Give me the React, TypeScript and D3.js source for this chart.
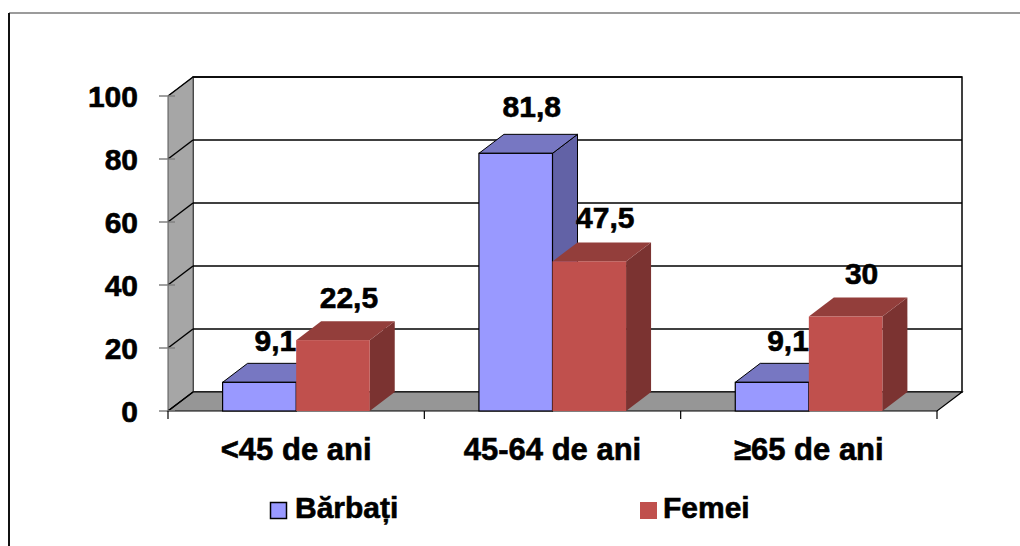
import React from "react";
import * as d3 from "d3";

const categories = ["<45 de ani", "45-64 de ani", "≥65 de ani"];
const seriesNames = ["Bărbați", "Femei"];
const barbati = [9.1, 81.8, 9.1];
const femei = [22.5, 47.5, 30];
const yTicks = [0, 20, 40, 60, 80, 100];
const labelText = (v: number) => String(v).replace(".", ",");

const W = 1020;
const H = 546;
const DX = 25;
const DY = -19;
const FONT = "'Liberation Sans', Arial, sans-serif";

const styles = [
  { front: "#9999FF", top: "#7777C2", side: "#6262A6", stroke: "#000" },
  { front: "#C0504D", top: "#933E3B", side: "#7B3331", stroke: "none" },
];

const textProps = {
  fontFamily: FONT,
  fontWeight: "bold" as const,
  fill: "#000",
  stroke: "#000",
  strokeWidth: 0.6,
};

export default function App() {
  const x = d3.scaleBand<string>().domain(categories).range([168, 937]).padding(0);
  const bw = x.bandwidth();
  const inner = d3
    .scaleBand<string>()
    .domain(seriesNames)
    .range([bw * 0.213, bw * 0.787])
    .padding(0);
  const y = d3.scaleLinear().domain([0, 100]).range([411, 96]);
  const values = [barbati, femei];
  const x0 = 168, x1 = 937;
  const y0 = y(0), yTop = y(100);

  const pts = (arr: [number, number][]) => arr.map((p) => p.join(",")).join(" ");

  const bars: React.ReactNode[] = [];
  const labels: React.ReactNode[] = [];
  categories.forEach((c, ci) => {
    seriesNames.forEach((s, si) => {
      const v = values[si][ci];
      const bx = (x(c) as number) + (inner(s) as number);
      const bwid = inner.bandwidth();
      const yt = y(v);
      const st = styles[si];
      bars.push(
        <g key={`${ci}-${si}`}>
          <polygon
            points={pts([[bx + bwid, y0], [bx + bwid + DX, y0 + DY], [bx + bwid + DX, yt + DY], [bx + bwid, yt]])}
            fill={st.side}
            stroke={st.stroke}
            strokeWidth={1}
          />
          <polygon
            points={pts([[bx, yt], [bx + DX, yt + DY], [bx + bwid + DX, yt + DY], [bx + bwid, yt]])}
            fill={st.top}
            stroke={st.stroke}
            strokeWidth={1}
          />
          <rect x={bx} y={yt} width={bwid} height={y0 - yt} fill={st.front} stroke={st.stroke} strokeWidth={1.2} />
        </g>
      );
      labels.push(
        <text
          key={`l${ci}-${si}`}
          x={bx + bwid / 2 + 16}
          y={yt + DY - 12 - (v / 100) * 6}
          textAnchor="middle"
          fontSize={30}
          {...textProps}
        >
          {labelText(v)}
        </text>
      );
    });
  });

  return (
    <svg width={W} height={H} style={{ position: "absolute", left: 0, top: 0, background: "#fff" }}>
      {/* outer frame */}
      <line x1={9} y1={13} x2={W} y2={13} stroke="#7a7a7a" strokeWidth={1.5} />
      <line x1={9} y1={13} x2={9} y2={H} stroke="#111" strokeWidth={2} />

      {/* back wall */}
      <rect x={x0 + DX} y={yTop + DY} width={x1 - x0} height={y0 - yTop} fill="#fff" stroke="#000" strokeWidth={1.5} />
      {/* left wall */}
      <polygon
        points={pts([[x0, y0], [x0, yTop], [x0 + DX, yTop + DY], [x0 + DX, y0 + DY]])}
        fill="#A6A6A6"
        stroke="#555"
        strokeWidth={1}
      />
      {/* floor */}
      <polygon
        points={pts([[x0, y0], [x1, y0], [x1 + DX, y0 + DY], [x0 + DX, y0 + DY]])}
        fill="#969696"
        stroke="#000"
        strokeWidth={1.2}
      />
      {/* gridlines */}
      {yTicks.map((t) => (
        <g key={`g${t}`}>
          {t > 0 && (
            <line x1={x0 + DX} x2={x1 + DX} y1={y(t) + DY} y2={y(t) + DY} stroke="#000" strokeWidth={1.5} />
          )}
          <line x1={x0} x2={x0 + DX} y1={y(t)} y2={y(t) + DY} stroke="#000" strokeWidth={1.5} />
        </g>
      ))}
      {/* y ticks + labels */}
      {yTicks.map((t) => (
        <g key={`t${t}`}>
          <line x1={159} x2={175} y1={y(t)} y2={y(t)} stroke="#808080" strokeWidth={1.5} />
          <text x={138} y={y(t)} dy="0.36em" textAnchor="end" fontSize={30} {...textProps}>
            {t}
          </text>
        </g>
      ))}
      {/* x ticks */}
      {[...categories.map((c) => x(c) as number), x1].map((px, i) => (
        <line key={`xt${i}`} x1={px} x2={px} y1={y0} y2={y0 + 8} stroke="#000" strokeWidth={1.2} />
      ))}
      {bars}
      {labels}
      {/* category labels */}
      {categories.map((c) => (
        <text
          key={`c${c}`}
          x={(x(c) as number) + bw / 2}
          y={460}
          textAnchor="middle"
          fontSize={31}
          {...textProps}
        >
          {c}
        </text>
      ))}
      {/* legend */}
      <rect x={270.5} y={502.5} width={16} height={16} fill={styles[0].front} stroke="#000" strokeWidth={1.5} />
      <text x={295} y={518} fontSize={30} {...textProps}>
        {seriesNames[0]}
      </text>
      <rect x={640} y={502} width={17} height={17} fill={styles[1].front} />
      <text x={663} y={518} fontSize={30} {...textProps}>
        {seriesNames[1]}
      </text>
    </svg>
  );
}
